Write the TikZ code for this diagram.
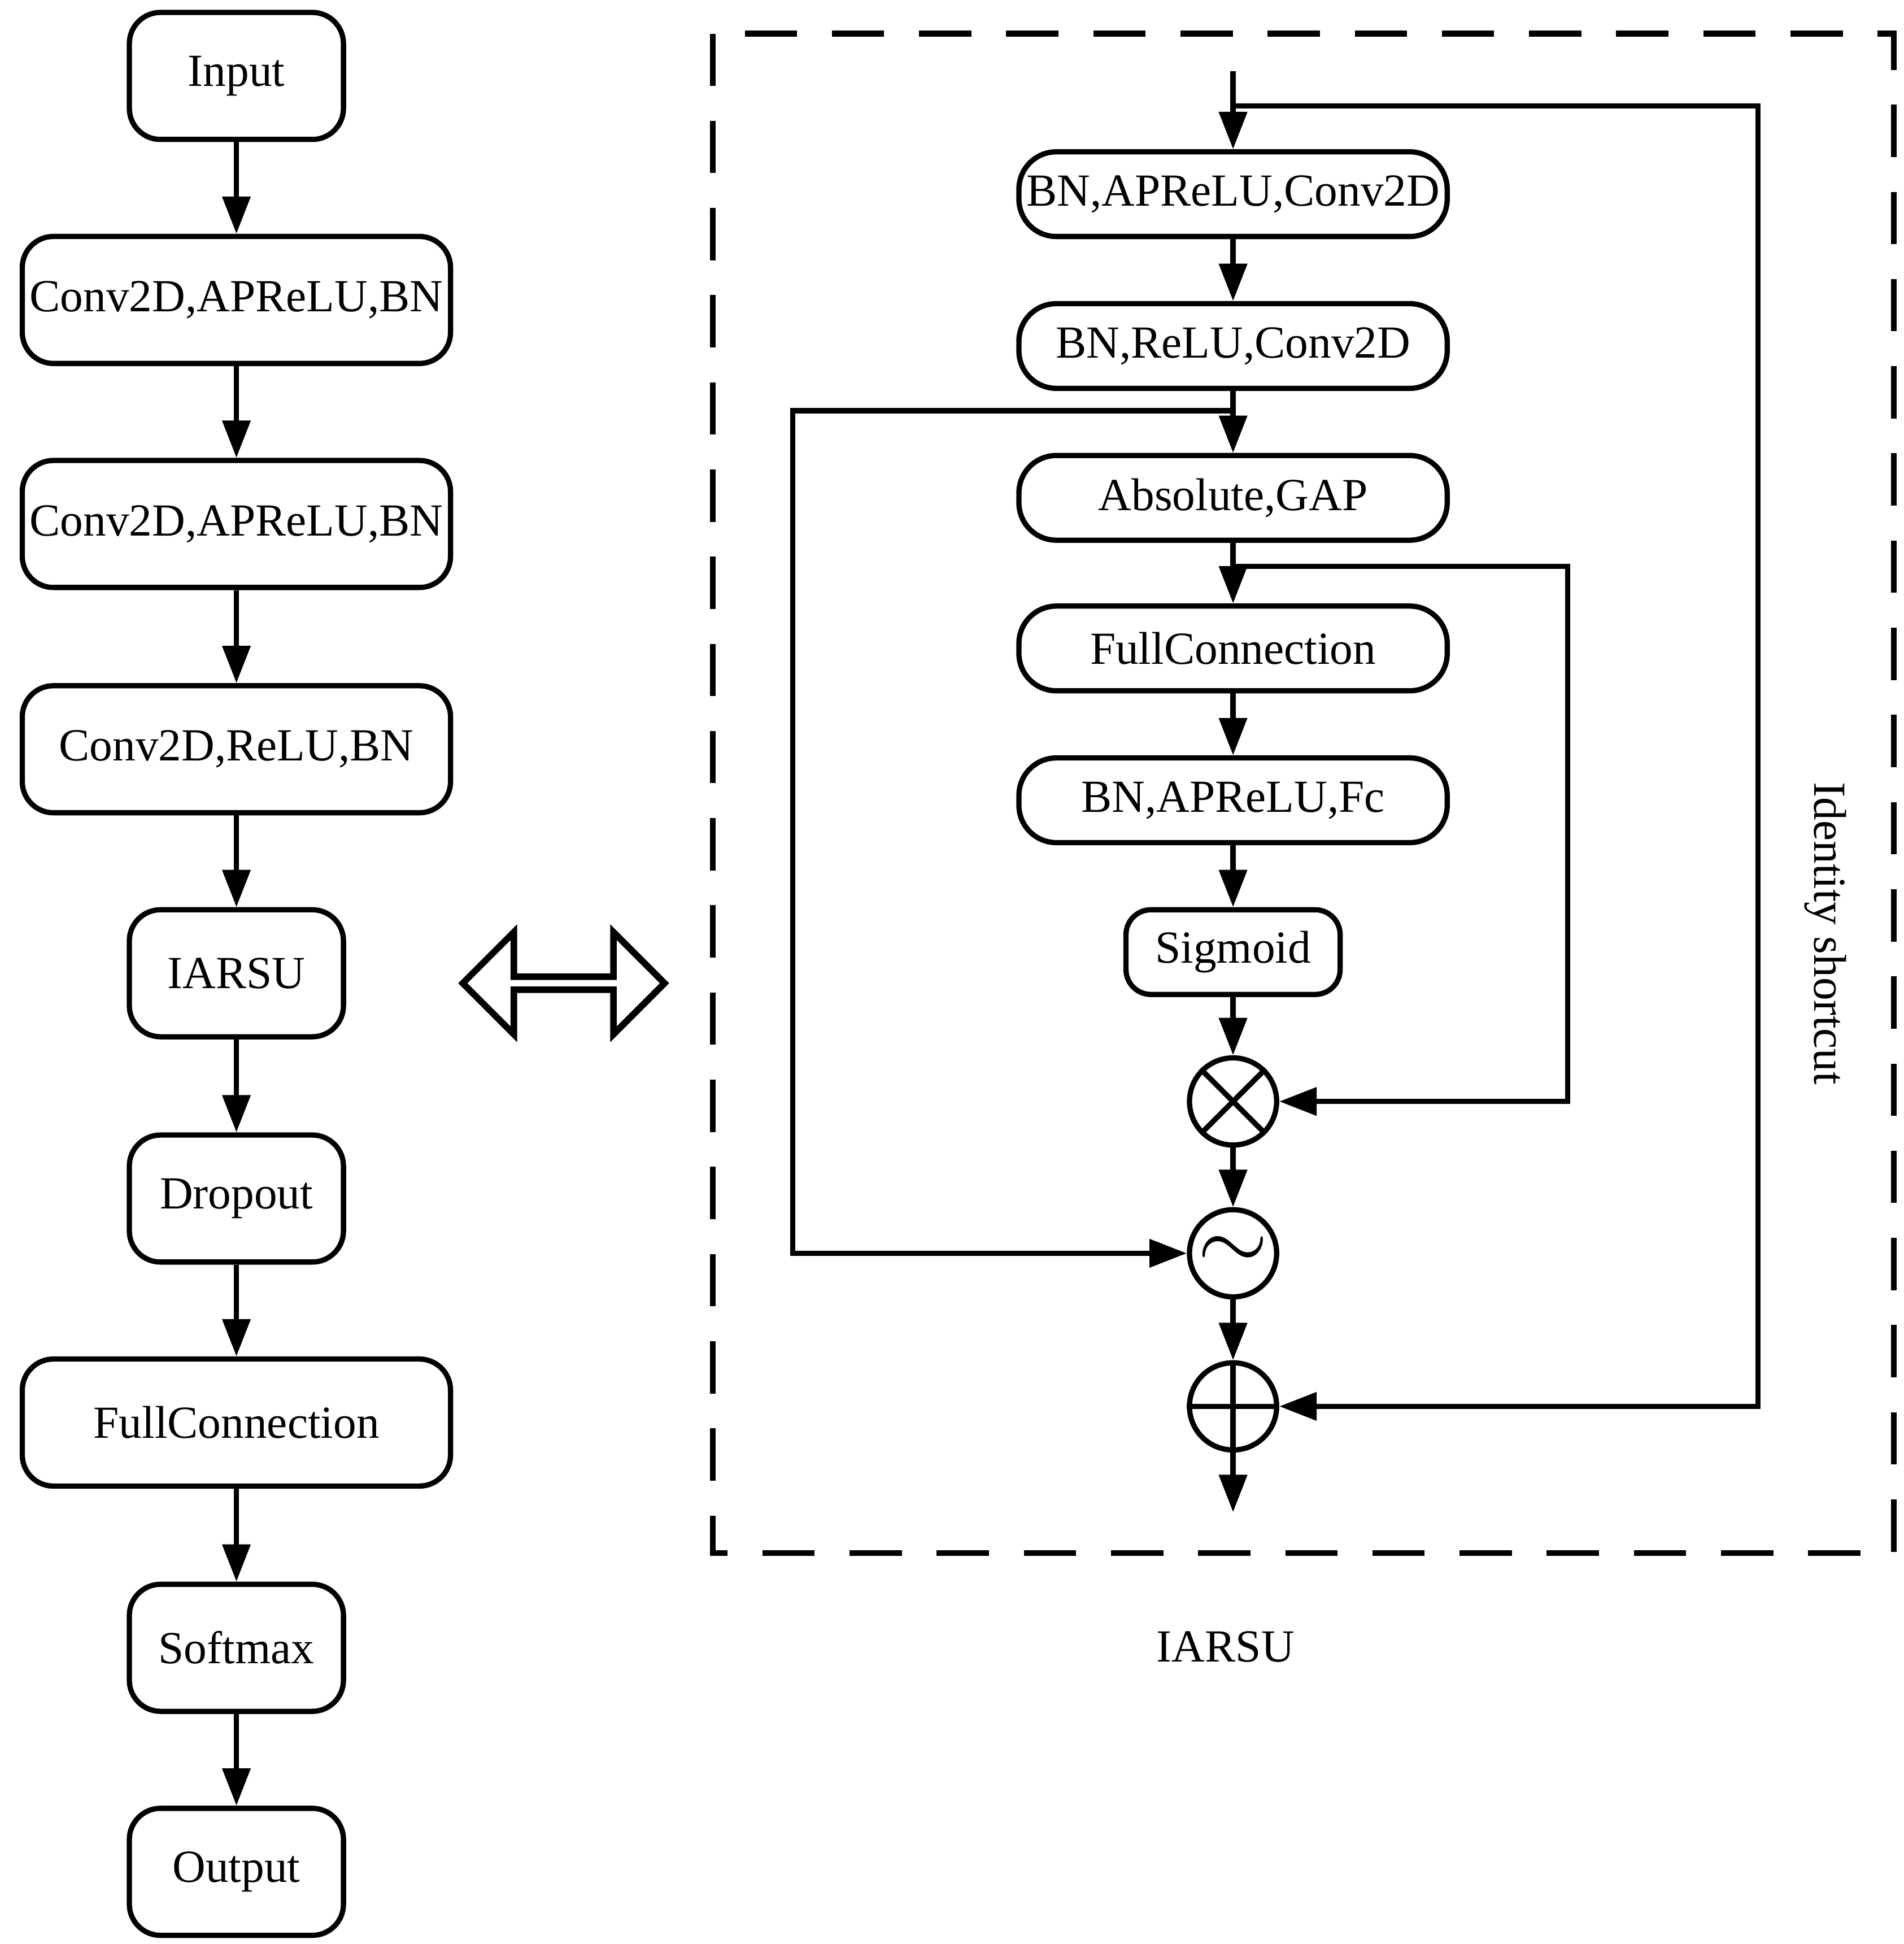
\documentclass[tikz,border=0pt]{standalone}
\usepackage{fontspec}
\setmainfont{Liberation Serif}
\usetikzlibrary{arrows.meta,shapes.arrows}
\begin{document}
\begin{tikzpicture}[x=0.01cm,y=-0.01cm,
  box/.style={draw,line width=1.2pt,rounded corners=0.25cm,inner sep=0,font=\fontsize{10.5}{12}\selectfont},
  wide/.style={box,minimum width=3.44cm,minimum height=1.02cm},
  narrow/.style={box,minimum width=1.72cm,minimum height=1.02cm},
  rwide/.style={box,rounded corners=0.3cm,minimum width=3.44cm,minimum height=0.68cm},
  circ/.style={draw,line width=1.2pt,circle,minimum size=0.7cm,inner sep=0},
  ar/.style={line width=1.2pt,-{Triangle[length=0.3cm,width=0.22cm]}},
  ln/.style={line width=1.2pt}]
\useasboundingbox (0,0) rectangle (1530,1562);
% left column
\node[narrow] (in) at (190,61) {Input};
\node[wide] (c1) at (190,241) {Conv2D,APReLU,BN};
\node[wide] (c2) at (190,421) {Conv2D,APReLU,BN};
\node[wide] (c3) at (190,602) {Conv2D,ReLU,BN};
\node[narrow] (ia) at (190,782) {IARSU};
\node[narrow] (dr) at (190,963) {Dropout};
\node[wide] (fc) at (190,1143) {FullConnection};
\node[narrow] (sm) at (190,1324) {Softmax};
\node[narrow] (out) at (190,1504) {Output};
\foreach \a/\b in {in/c1,c1/c2,c2/c3,c3/ia,ia/dr,dr/fc,fc/sm,sm/out}
  \draw[ar] (\a) -- (\b);
% double arrow
\node[draw,line width=1.5pt,double arrow,double arrow head extend=0.18cm,minimum width=0.82cm,minimum height=1.62cm,inner sep=0] (da) at (453,790) {};
% dashed box
\draw[line width=1.3pt,dash pattern=on 0.42cm off 0.28cm] (573,27) rectangle (1522,1248);
% right column
\node[rwide] (r1) at (991,156) {BN,APReLU,Conv2D};
\node[rwide] (r2) at (991,278) {BN,ReLU,Conv2D};
\node[rwide] (r3) at (991,400) {Absolute,GAP};
\node[rwide] (r4) at (991,521) {FullConnection};
\node[rwide] (r5) at (991,643) {BN,APReLU,Fc};
\node[box,rounded corners=0.2cm,minimum width=1.72cm,minimum height=0.68cm] (sg) at (991,765) {Sigmoid};
\node[circ] (mul) at (991,885) {};
\draw[ln] (mul.north west) -- (mul.south east) (mul.north east) -- (mul.south west);
\node[circ] (sim) at (991,1007) {\fontsize{22}{22}\selectfont$\sim$};
\node[circ] (add) at (991,1130) {};
\draw[ln] (add.north) -- (add.south) (add.west) -- (add.east);
\coordinate (top) at (991,57);
\coordinate (end) at (991,1215);
\coordinate (s0) at (991,85);
\coordinate (b1) at (991,330);
\coordinate (b2) at (991,455);
\draw[ar] (top) -- (r1);
\draw[ar] (r1) -- (r2);
\draw[ar] (r2) -- (r3);
\draw[ar] (r3) -- (r4);
\draw[ar] (r4) -- (r5);
\draw[ar] (r5) -- (sg);
\draw[ar] (sg) -- (mul);
\draw[ar] (mul) -- (sim);
\draw[ar] (sim) -- (add);
\draw[ar] (add) -- (end);
\draw[ar] (s0) -| (1413,1130) -- (add.east);
\draw[ar] (b1) -| (637,1007) -- (sim.west);
\draw[ar] (b2) -| (1260,885) -- (mul.east);
\node[font=\fontsize{10.5}{12}\selectfont,rotate=-90] (idl) at (1467,750) {Identity shortcut};
\node[font=\fontsize{10.5}{12}\selectfont] (lab) at (985,1323) {IARSU};
\end{tikzpicture}
\end{document}
